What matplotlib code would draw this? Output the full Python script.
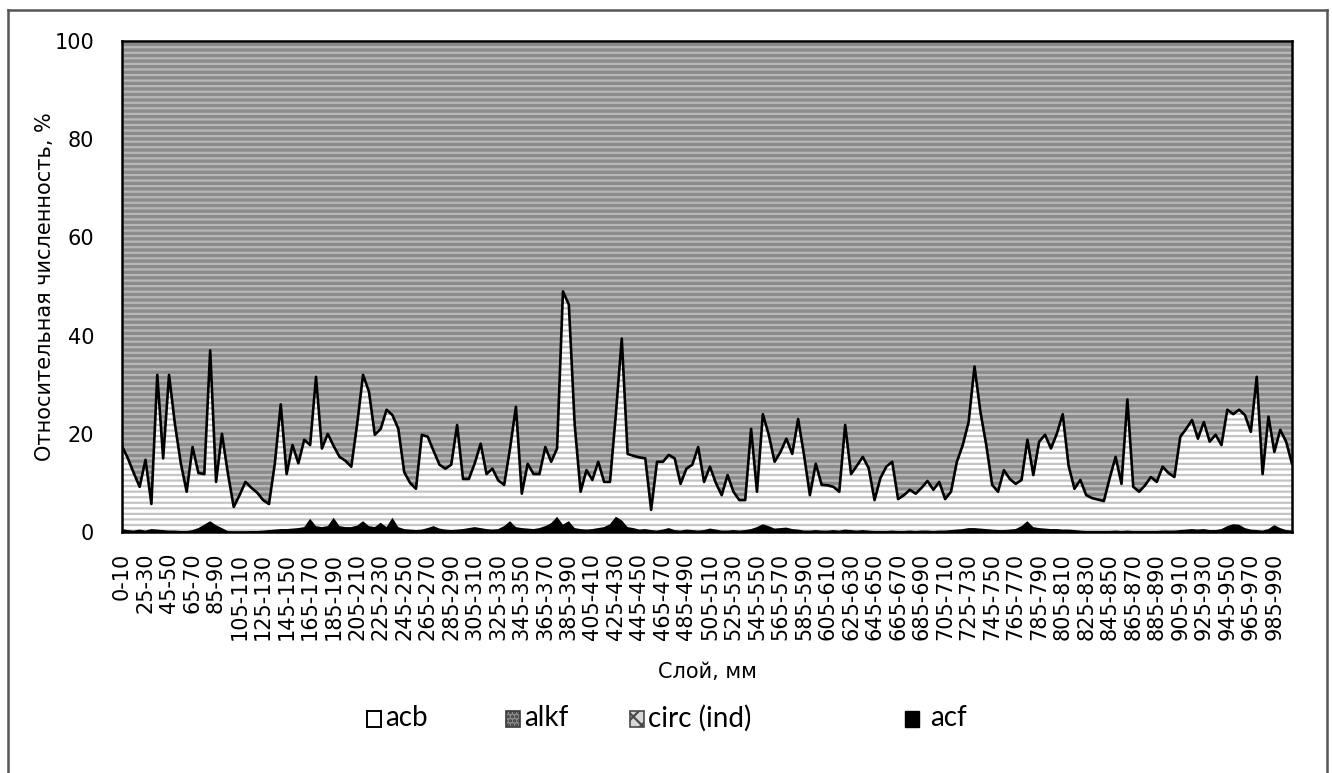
import matplotlib
matplotlib.use("Agg")
import matplotlib.pyplot as plt
from matplotlib.patches import Rectangle
from matplotlib.lines import Line2D
import numpy as np

# layer labels: first one is 0-10, then 5 mm steps
categories = ["0-10"] + [f"{5 * k + 5}-{5 * k + 10}" for k in range(1, 200)]

# upper edge of the acb band (cumulative %, the black line)
acb_top = [
    17.5, 15.0, 12.0, 9.2, 14.7, 5.7, 32.0, 15.0, 32.0, 22.0,      # 0
    14.0, 8.2, 17.3, 12.0, 11.8, 37.0, 10.2, 20.0, 12.0, 5.1,      # 10
    7.5, 10.2, 9.0, 8.0, 6.5, 5.7, 14.0, 26.0, 11.8, 17.7,         # 20
    14.0, 18.8, 17.7, 31.6, 17.0, 20.0, 17.5, 15.3, 14.5, 13.3,    # 30
    22.0, 32.0, 28.6, 19.8, 21.0, 24.9, 23.8, 21.0, 12.2, 10.0,    # 40
    8.8, 19.8, 19.4, 16.5, 13.7, 12.9, 13.7, 21.8, 10.8, 10.8,     # 50
    14.0, 18.0, 11.8, 12.9, 10.5, 9.6, 17.0, 25.5, 7.8, 13.9,      # 60
    11.8, 11.8, 17.3, 14.3, 17.0, 49.0, 46.3, 21.8, 8.2, 12.6,     # 70
    10.6, 14.3, 10.2, 10.2, 24.0, 39.4, 15.9, 15.5, 15.2, 15.0,    # 80
    4.5, 14.3, 14.3, 15.7, 15.0, 9.8, 12.9, 13.7, 17.3, 10.2,      # 90
    13.3, 10.0, 7.5, 11.6, 8.2, 6.5, 6.5, 21.0, 8.2, 24.0,         # 100
    19.8, 14.3, 16.3, 19.0, 15.9, 23.0, 15.7, 7.5, 13.9, 9.6,      # 110
    9.5, 9.2, 8.2, 21.8, 11.8, 13.5, 15.3, 13.0, 6.5, 11.0,        # 120
    13.3, 14.3, 6.7, 7.5, 8.6, 7.8, 9.0, 10.4, 8.6, 10.2,          # 130
    6.7, 8.2, 14.3, 17.7, 22.4, 33.7, 24.5, 17.7, 9.6, 8.2,        # 140
    12.6, 10.8, 9.8, 10.6, 18.8, 11.6, 18.4, 19.8, 17.0, 20.0,     # 150
    24.0, 13.5, 8.8, 10.6, 7.5, 6.9, 6.6, 6.3, 11.0, 15.3,         # 160
    9.8, 27.0, 9.2, 8.2, 9.5, 11.2, 10.2, 13.3, 12.0, 11.2,        # 170
    19.4, 21.0, 22.8, 19.0, 22.4, 18.4, 19.8, 17.7, 24.9, 24.0,    # 180
    24.9, 23.8, 20.4, 31.6, 11.8, 23.5, 16.3, 20.8, 18.4, 13.9,    # 190
]

# acf, %
acf = [
    0.6, 0.4, 0.3, 0.5, 0.3, 0.6, 0.5, 0.4, 0.3, 0.3,
    0.2, 0.2, 0.4, 0.8, 1.5, 2.2, 1.4, 0.8, 0.2, 0.1,
    0.1, 0.1, 0.2, 0.2, 0.3, 0.4, 0.5, 0.6, 0.6, 0.7,
    0.8, 1.0, 2.7, 1.2, 1.0, 1.2, 2.9, 1.2, 1.0, 1.0,
    1.3, 2.2, 1.2, 1.0, 1.9, 1.0, 2.9, 1.0, 0.6, 0.5,
    0.4, 0.5, 0.8, 1.2, 0.7, 0.5, 0.4, 0.5, 0.6, 0.8,
    1.0, 0.8, 0.6, 0.5, 0.6, 1.2, 2.2, 1.0, 0.8, 0.7,
    0.6, 0.8, 1.2, 1.8, 3.1, 1.5, 2.2, 0.8, 0.6, 0.5,
    0.6, 0.8, 1.0, 1.6, 3.1, 2.4, 1.0, 0.8, 0.5, 0.6,
    0.4, 0.3, 0.5, 0.8, 0.4, 0.3, 0.5, 0.4, 0.3, 0.4,
    0.7, 0.5, 0.3, 0.3, 0.4, 0.3, 0.4, 0.6, 1.0, 1.6,
    1.2, 0.7, 0.8, 0.9, 0.6, 0.5, 0.3, 0.3, 0.4, 0.3,
    0.3, 0.4, 0.3, 0.5, 0.4, 0.3, 0.4, 0.3, 0.2, 0.2,
    0.2, 0.3, 0.2, 0.2, 0.3, 0.2, 0.3, 0.3, 0.2, 0.3,
    0.3, 0.4, 0.5, 0.6, 0.8, 0.8, 0.7, 0.6, 0.5, 0.4,
    0.4, 0.5, 0.6, 1.2, 2.2, 1.0, 0.8, 0.7, 0.6, 0.6,
    0.5, 0.5, 0.4, 0.3, 0.2, 0.2, 0.2, 0.2, 0.2, 0.3,
    0.2, 0.3, 0.2, 0.2, 0.2, 0.2, 0.2, 0.3, 0.3, 0.3,
    0.4, 0.5, 0.6, 0.5, 0.6, 0.4, 0.4, 0.6, 1.2, 1.6,
    1.5, 0.8, 0.5, 0.4, 0.3, 0.6, 1.4, 0.8, 0.4, 0.3,
]

legend_labels = ["acb", "alkf", "circ (ind)", "acf"]

W, H = 1332, 773
fig = plt.figure(figsize=(W / 100, H / 100), dpi=100)
plt.rcParams["hatch.linewidth"] = 1.6

def fx(px):
    return px / W

def fy(py):
    return 1 - py / H

ax = fig.add_axes([fx(122), fy(532), fx(1292) - fx(122), fy(41) - fy(532)])

x = np.arange(len(categories))
acf_a = np.array(acf)
top = np.array(acb_top)

# alkf fills the rest up to 100 %
ax.fill_between(x, top, 100, facecolor="#8b8b8b", edgecolor="#b8b8b8",
                hatch="---", linewidth=0)
ax.fill_between(x, acf_a, top, facecolor="white", edgecolor="#c4c4c4",
                hatch="---", linewidth=0)
ax.fill_between(x, 0, acf_a, facecolor="black", linewidth=0)
ax.plot(x, top, color="black", lw=1.9)

ax.set_xlim(0, len(categories) - 1)
ax.set_ylim(0, 100)
ax.set_yticks(range(0, 101, 20))
ax.set_xticks(x[::4])
ax.set_xticklabels(categories[::4], rotation=90, fontsize=15)
ax.tick_params(axis="x", length=0, pad=15)
ax.tick_params(axis="y", length=0, pad=20, labelsize=15)
for s in ax.spines.values():
    s.set_color("black")
    s.set_linewidth(1.8)

fig.text(fx(45), fy(287), "Относительная численность, %", rotation=90,
         ha="center", va="center", fontsize=15)
fig.text(fx(707), fy(672), "Слой, мм", ha="center", va="center", fontsize=15)

# legend, placed by hand like the original
leg_items = [
    (367, dict(facecolor="white", edgecolor="black", lw=1.4)),
    (506, dict(facecolor="#8b8b8b", edgecolor="#3a3a3a", lw=1.2, hatch="....")),
    (630, dict(facecolor="#d8d8d8", edgecolor="#4a4a4a", lw=1.2, hatch="xx")),
    (905, dict(facecolor="black", edgecolor="black", lw=1.0)),
]
for (px, style), lab in zip(leg_items, legend_labels):
    fig.patches.append(Rectangle((fx(px), fy(727)), fx(14), 16 / H,
                                 transform=fig.transFigure, **style))
    off = 18 if lab != "acf" else 25
    fig.text(fx(px + off), fy(718), lab, ha="left", va="center",
             fontsize=20, family="Lato")

# outer chart frame
for xs, ys in [([8, 8], [10, 780]), ([8, 1327], [10, 10]), ([1327, 1327], [10, 780])]:
    fig.add_artist(Line2D([fx(v) for v in xs], [fy(v) for v in ys],
                          transform=fig.transFigure, color="#555555", lw=1.8))

fig.savefig("out.png", dpi=100)
